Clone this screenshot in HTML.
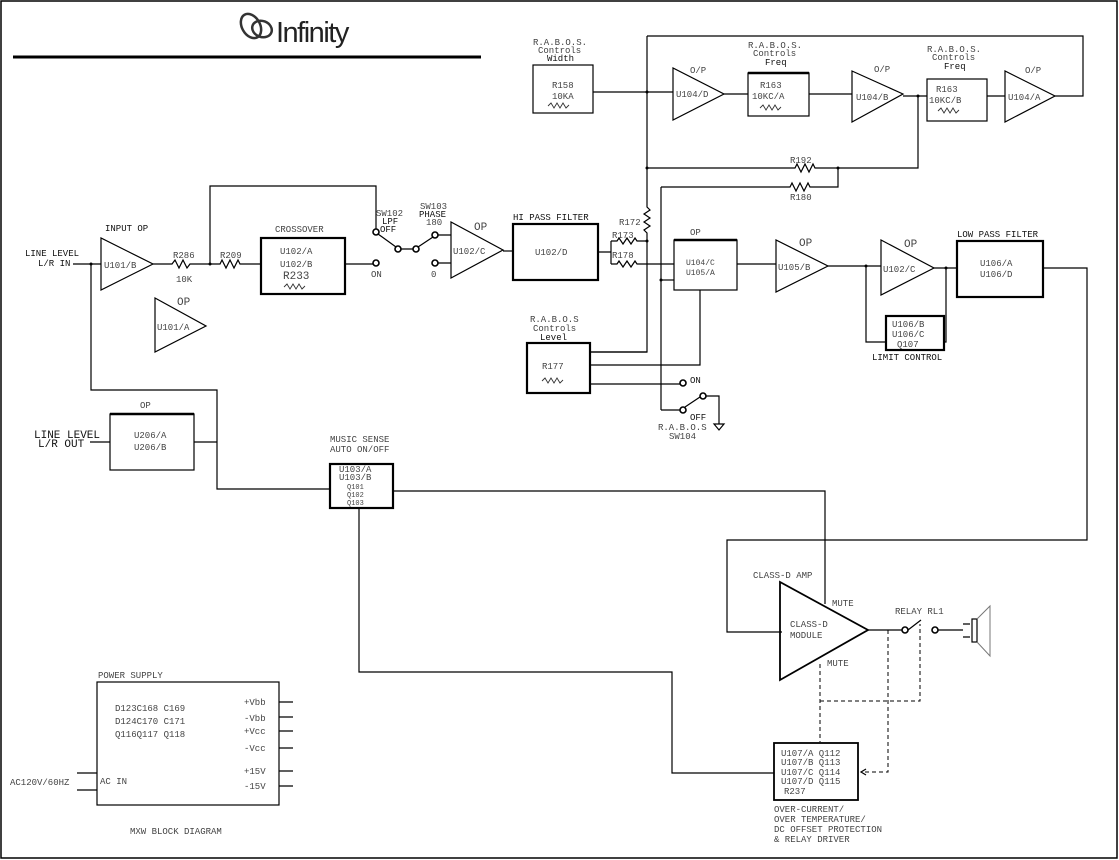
<!DOCTYPE html>
<html><head><style>
html,body{margin:0;padding:0;background:#fff}
svg{display:block}
text{font-family:"Liberation Mono",monospace;font-size:9px;fill:#444}
.b{fill:#111}
.l{stroke:#000;stroke-width:1.2;fill:none}
.t{stroke:#000;stroke-width:2.2;fill:none}
.d{stroke:#000;stroke-width:1;fill:none;stroke-dasharray:4 3}
.c{stroke:#000;stroke-width:1.6;fill:#fff}
.r{stroke:#333;stroke-width:0.9;fill:none}
</style></head><body>
<svg width="1119" height="860" viewBox="0 0 1119 860" xmlns="http://www.w3.org/2000/svg">
<rect x="1" y="1" width="1116" height="857" fill="none" stroke="#000" stroke-width="1.5"/>
<!-- logo -->
<g stroke="#333" fill="none" stroke-width="2.5"><ellipse cx="251" cy="26" rx="9" ry="13" transform="rotate(-30 251 26)"/><ellipse cx="262" cy="29" rx="10" ry="8" transform="rotate(20 262 29)"/></g>
<text x="276" y="42" style="font-family:'Liberation Sans',sans-serif;font-size:29px;fill:#222;letter-spacing:-1.5px">Infinity</text>
<line x1="13" y1="57" x2="481" y2="57" stroke="#000" stroke-width="3"/>

<!-- input section -->
<text x="25" y="256" class="b">LINE LEVEL</text><text x="38" y="266" class="b">L/R IN</text>
<path class="l" d="M73 264H101M91 264V390H217V489H330M217 442H194M90 442H110"/>
<circle cx="91" cy="264" r="1.5"/>
<path class="l" d="M101 238V290L153 264Z"/>
<text x="105" y="231" class="b">INPUT OP</text><text x="104" y="268">U101/B</text>
<path class="l" d="M153 264H172l3-4 4 8 4-8 4 8 3-4H220l2-4 4 8 4-8 4 8 4-8 2 4H261"/>
<text x="173" y="258">R286</text><text x="176" y="282">10K</text><text x="220" y="258">R209</text>
<path class="l" d="M210 264V186H376V229"/><circle cx="210" cy="264" r="1.5"/>
<rect x="261" y="238" width="84" height="56" class="t"/>
<text x="275" y="232">CROSSOVER</text>
<text x="280" y="254">U102/A</text><text x="280" y="267">U102/B</text><text x="283" y="279" style="font-size:11px">R233</text>
<path class="r" d="M284 287l3-3 3 5 3-5 3 5 3-5 3 5 3-3"/>
<path class="l" d="M345 264H373"/>
<circle cx="376" cy="263" r="3" class="c"/><text x="371" y="277">ON</text>
<circle cx="376" cy="232" r="3" class="c"/><circle cx="398" cy="249" r="3" class="c"/><circle cx="416" cy="249" r="3" class="c"/><circle cx="435" cy="235" r="3" class="c"/><circle cx="435" cy="263" r="3" class="c"/>
<path class="l" d="M378 234L396 247M401 249H413M418 247L433 237M438 235H451M438 263H451"/>
<text x="431" y="277">0</text>
<text x="376" y="216">SW102</text><text x="382" y="224" class="b">LPF</text><text x="380" y="232" class="b">OFF</text>
<text x="420" y="209">SW103</text><text x="419" y="217" class="b">PHASE</text><text x="426" y="225">180</text>
<path class="l" d="M451 222V278L503 250Z"/>
<text x="474" y="230" style="font-size:11px">OP</text><text x="453" y="254">U102/C</text>
<path class="l" d="M503 251H513"/>
<rect x="513" y="224" width="85" height="56" class="t"/>
<text x="513" y="220" class="b">HI PASS FILTER</text><text x="535" y="255">U102/D</text>
<!-- R173/R178/R172 -->
<path class="l" d="M598 252H611M611 241V264M611 241H617l2-3 4 6 4-6 4 6 4-6 2 3H647M611 264H617l2-3 4 6 4-6 4 6 4-6 2 3H674"/>
<text x="612" y="238">R173</text><text x="612" y="258">R178</text>
<path class="l" d="M647 36V207l3 3-6 4 6 4-6 4 6 4-6 4 3 3V352H590M647 36H1083V96H1055"/>
<text x="619" y="225">R172</text>
<circle cx="647" cy="241" r="1.5"/><circle cx="647" cy="92" r="1.5"/><circle cx="647" cy="168" r="1.5"/>
<!-- RABOS top -->
<text x="533" y="45">R.A.B.O.S.</text><text x="538" y="53">Controls</text><text x="547" y="61" class="b">Width</text>
<rect x="533" y="65" width="60" height="48" class="l"/>
<text x="552" y="88">R158</text><text x="552" y="99">10KA</text><path class="r" d="M548 106l3-3 3 5 3-5 3 5 3-5 3 5 3-3"/>
<path class="l" d="M593 92H673"/>
<path class="l" d="M673 68V120L724 94Z"/><text x="690" y="73">O/P</text><text x="676" y="97">U104/D</text>
<path class="l" d="M724 94H748"/>
<text x="748" y="48">R.A.B.O.S.</text><text x="753" y="56">Controls</text><text x="765" y="65" class="b">Freq</text>
<rect x="748" y="73" width="61" height="43" class="l"/><line x1="748" y1="73" x2="809" y2="73" stroke="#000" stroke-width="2.5"/>
<text x="760" y="88">R163</text><text x="752" y="99">10KC/A</text><path class="r" d="M760 108l3-3 3 5 3-5 3 5 3-5 3 5 3-3"/>
<path class="l" d="M809 94H852"/>
<path class="l" d="M852 71V122L903 94Z"/><text x="874" y="72">O/P</text><text x="856" y="100">U104/B</text>
<path class="l" d="M903 96H927M918 96V168H815l-2-4-4 8-4-8-4 8-4-8-2 4H647"/><circle cx="918" cy="96" r="1.5"/>
<text x="790" y="163">R192</text>
<path class="l" d="M661 187H790l2-4 4 8 4-8 4 8 4-8 2 4H838V168M661 187V410"/><circle cx="838" cy="168" r="1.5"/>
<text x="790" y="200">R180</text>
<text x="927" y="52">R.A.B.O.S.</text><text x="932" y="60">Controls</text><text x="944" y="69" class="b">Freq</text>
<rect x="927" y="79" width="60" height="42" class="l"/>
<text x="936" y="92">R163</text><text x="929" y="103">10KC/B</text><path class="r" d="M938 111l3-3 3 5 3-5 3 5 3-5 3 5 3-3"/>
<path class="l" d="M987 96H1005"/>
<path class="l" d="M1005 71V122L1055 96Z"/><text x="1025" y="73">O/P</text><text x="1008" y="100">U104/A</text>
<!-- mid right -->
<circle cx="661" cy="280" r="1.5"/><path class="l" d="M661 280H674"/>
<rect x="674" y="240" width="63" height="50" class="l"/><line x1="674" y1="240" x2="737" y2="240" stroke="#000" stroke-width="2.5"/>
<text x="690" y="235">OP</text><text x="686" y="265" style="font-size:8px">U104/C</text><text x="686" y="275" style="font-size:8px">U105/A</text>
<path class="l" d="M737 264H776"/>
<path class="l" d="M776 240V292L828 266Z"/><text x="799" y="246" style="font-size:11px">OP</text><text x="778" y="270">U105/B</text>
<path class="l" d="M828 266H881M866 266V342H886M934 268H957M946 268V342H944"/><circle cx="866" cy="266" r="1.5"/><circle cx="946" cy="268" r="1.5"/>
<path class="l" d="M881 240V295L934 268Z"/><text x="904" y="247" style="font-size:11px">OP</text><text x="883" y="272">U102/C</text>
<rect x="886" y="316" width="58" height="34" class="t"/>
<text x="892" y="327">U106/B</text><text x="892" y="337">U106/C</text><text x="897" y="347">Q107</text>
<text x="872" y="360" class="b">LIMIT CONTROL</text>
<rect x="957" y="241" width="86" height="56" class="t"/>
<text x="957" y="237" class="b">LOW PASS FILTER</text><text x="980" y="266">U106/A</text><text x="980" y="277">U106/D</text>
<path class="l" d="M1043 268H1087V540H727V632H782M700 290V365H590M590 384H680M590 352H647"/>
<text x="530" y="322">R.A.B.O.S</text><text x="533" y="331">Controls</text><text x="540" y="340" class="b">Level</text>
<rect x="527" y="343" width="63" height="50" class="t"/>
<text x="542" y="369">R177</text><path class="r" d="M542 381l3-3 3 5 3-5 3 5 3-5 3 5 3-3"/>
<circle cx="683" cy="383" r="3" class="c"/><text x="690" y="383" class="b">ON</text>
<path class="l" d="M661 410H680M685 407L700 397M706 396H719V424"/>
<circle cx="683" cy="410" r="3" class="c"/><circle cx="703" cy="396" r="3" class="c"/>
<path class="l" d="M714 424H724L719 430Z"/>
<text x="690" y="420" class="b">OFF</text><text x="658" y="430">R.A.B.O.S</text><text x="669" y="439">SW104</text>
<!-- left lower -->
<path class="l" d="M155 298V352L206 326Z"/><text x="177" y="305" style="font-size:11px">OP</text><text x="157" y="330">U101/A</text>
<text x="34" y="438" class="b" style="font-size:11px">LINE LEVEL</text><text x="38" y="447" class="b" style="font-size:11px">L/R OUT</text>
<rect x="110" y="414" width="84" height="56" class="l"/><line x1="110" y1="414" x2="194" y2="414" stroke="#000" stroke-width="2.5"/>
<text x="140" y="408">OP</text><text x="134" y="438">U206/A</text><text x="134" y="450">U206/B</text>
<text x="330" y="442">MUSIC SENSE</text><text x="330" y="452">AUTO ON/OFF</text>
<rect x="330" y="464" width="63" height="44" class="t"/>
<text x="339" y="472">U103/A</text><text x="339" y="480">U103/B</text>
<text x="347" y="489" style="font-size:7px">Q101</text><text x="347" y="497" style="font-size:7px">Q102</text><text x="347" y="505" style="font-size:7px">Q103</text>
<path class="l" d="M393 491H825V604M359 508V672H672V773H774"/>
<!-- class D -->
<text x="753" y="578">CLASS-D AMP</text>
<path class="t" d="M780 582V680L868 630Z" style="stroke-width:1.8"/>
<text x="790" y="627">CLASS-D</text><text x="790" y="638">MODULE</text>
<text x="832" y="606">MUTE</text><text x="827" y="666">MUTE</text>
<path class="l" d="M868 630H902M908 630L921 620M938 630H963M963 624H970M963 637H970"/>
<circle cx="905" cy="630" r="3" class="c"/><circle cx="935" cy="630" r="3" class="c"/>
<text x="895" y="614">RELAY RL1</text>
<rect x="972" y="619" width="5" height="23" class="l"/>
<path d="M977 619L990 606V656L977 642" fill="none" stroke="#777" stroke-width="1"/>
<path class="d" d="M888 630V772H862M820 664V742M820 701H920V624"/>
<path class="l" d="M866 769L861 772L866 775"/>
<rect x="774" y="743" width="84" height="57" class="t" style="stroke-width:1.8"/>
<text x="781" y="756">U107/A Q112</text><text x="781" y="765">U107/B Q113</text><text x="781" y="775">U107/C Q114</text><text x="781" y="784">U107/D Q115</text><text x="784" y="794">R237</text>
<text x="774" y="812">OVER-CURRENT/</text><text x="774" y="822">OVER TEMPERATURE/</text><text x="774" y="832">DC OFFSET PROTECTION</text><text x="774" y="842">&amp; RELAY DRIVER</text>
<!-- power supply -->
<text x="98" y="678">POWER SUPPLY</text>
<rect x="97" y="682" width="182" height="123" class="l"/>
<text x="115" y="711">D123C168 C169</text><text x="115" y="724">D124C170 C171</text><text x="115" y="737">Q116Q117 Q118</text>
<text x="244" y="705">+Vbb</text><text x="244" y="721">-Vbb</text><text x="244" y="734">+Vcc</text><text x="244" y="751">-Vcc</text><text x="244" y="774">+15V</text><text x="244" y="789">-15V</text>
<path class="l" d="M279 702H293M279 717H293M279 731H293M279 748H293M279 771H293M279 786H293M77 773H97M77 790H97"/>
<text x="100" y="784">AC IN</text><text x="10" y="785">AC120V/60HZ</text>
<text x="130" y="834">MXW  BLOCK  DIAGRAM</text>
</svg>
</body></html>
